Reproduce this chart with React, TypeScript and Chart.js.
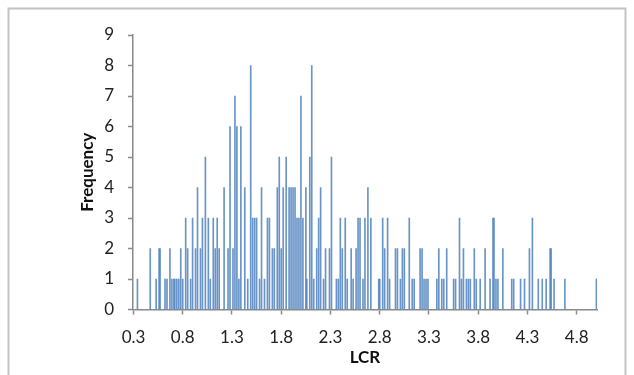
import React, { useEffect, useRef } from "react";
import { Chart, registerables } from "chart.js";

Chart.register(...registerables);

const lcrValues = [
  0.34, 0.47, 0.53, 0.56, 0.57, 0.62, 0.64, 0.67, 0.69, 0.71,
  0.72, 0.74, 0.76, 0.78, 0.80, 0.83, 0.85, 0.88, 0.90, 0.93,
  0.95, 0.98, 1.00, 1.03, 1.06, 1.08, 1.11, 1.13, 1.15, 1.17,
  1.22, 1.26, 1.28, 1.31, 1.33, 1.35, 1.37, 1.39, 1.43, 1.46,
  1.49, 1.51, 1.53, 1.55, 1.58, 1.60, 1.63, 1.66, 1.68, 1.71,
  1.73, 1.76, 1.78, 1.80, 1.82, 1.85, 1.88, 1.90, 1.92, 1.94,
  1.96, 1.98, 2.00, 2.02, 2.05, 2.06, 2.09, 2.11, 2.13, 2.16,
  2.18, 2.20, 2.23, 2.25, 2.29, 2.31, 2.36, 2.38, 2.40, 2.42,
  2.45, 2.47, 2.51, 2.53, 2.56, 2.58, 2.60, 2.63, 2.65, 2.68,
  2.71, 2.79, 2.80, 2.83, 2.85, 2.88, 2.90, 2.96, 2.98, 3.01,
  3.03, 3.05, 3.10, 3.13, 3.15, 3.21, 3.23, 3.25, 3.27, 3.29,
  3.38, 3.40, 3.43, 3.45, 3.48, 3.55, 3.57, 3.61, 3.63, 3.65,
  3.68, 3.70, 3.72, 3.76, 3.78, 3.82, 3.87, 3.92, 3.95, 3.96,
  3.98, 4.00, 4.05, 4.14, 4.16, 4.23, 4.27, 4.32, 4.35, 4.41,
  4.45, 4.49, 4.53, 4.54, 4.57, 4.68, 5.00,
];

const frequencies = [
  1, 2, 1, 2, 2, 1, 1, 2, 1, 1,
  1, 1, 1, 2, 1, 3, 2, 1, 3, 2,
  4, 2, 3, 5, 3, 1, 3, 2, 3, 2,
  4, 2, 6, 2, 7, 6, 1, 6, 4, 1,
  8, 3, 3, 3, 1, 4, 1, 3, 3, 2,
  2, 4, 5, 2, 4, 5, 4, 4, 4, 4,
  3, 3, 7, 3, 4, 1, 5, 8, 1, 2,
  3, 4, 1, 2, 2, 5, 1, 1, 3, 2,
  3, 1, 2, 1, 2, 3, 3, 1, 3, 4,
  3, 1, 1, 3, 2, 3, 1, 2, 2, 1,
  2, 2, 3, 1, 1, 2, 2, 1, 1, 1,
  1, 2, 1, 1, 2, 1, 1, 3, 1, 2,
  1, 1, 1, 2, 1, 1, 2, 1, 3, 3,
  1, 1, 2, 1, 1, 1, 1, 2, 3, 1,
  1, 1, 2, 2, 1, 1, 1,
];

const xTickValues = [0.3, 0.8, 1.3, 1.8, 2.3, 2.8, 3.3, 3.8, 4.3, 4.8];

const xMin = 0.295;
const xMax = 5.006;
const yMax = 9;

const frameBorder = {
  id: "frameBorder",
  beforeDraw(chart: any) {
    const ctx = chart.ctx;
    ctx.save();
    ctx.fillStyle = "#ffffff";
    ctx.fillRect(0, 0, chart.width, chart.height);
    ctx.strokeStyle = "#c4c4c4";
    ctx.lineWidth = 2;
    ctx.strokeRect(8.5, 8.5, 617, 500);
    ctx.restore();
  },
};

export default function App() {
  const canvasRef = useRef<HTMLCanvasElement | null>(null);

  useEffect(() => {
    const canvas = canvasRef.current;
    if (!canvas) return;
    const points = lcrValues.map((v, i) => ({ x: v, y: frequencies[i] }));
    const axisColor = "#8a8a8a";
    const chart = new Chart(canvas, {
      type: "bar",
      data: {
        datasets: [
          {
            label: "Frequency",
            data: points,
            backgroundColor: "rgba(79,129,189,0.85)",
            borderWidth: 0,
            barThickness: 1,
          },
        ],
      },
      options: {
        animation: false,
        responsive: false,
        maintainAspectRatio: false,
        devicePixelRatio: 1,
        layout: { padding: { left: 0, right: 37, top: 35, bottom: 0 } },
        plugins: {
          legend: { display: false },
          tooltip: { enabled: false },
        },
        scales: {
          x: {
            type: "linear",
            offset: false,
            min: xMin,
            max: xMax,
            afterBuildTicks: (scale: any) => {
              scale.ticks = xTickValues.map((v) => ({ value: v }));
            },
            afterFit: (scale: any) => {
              scale.height = 375 - 309.5;
            },
            grid: {
              offset: false,
              drawOnChartArea: false,
              drawTicks: true,
              tickLength: 5,
              tickColor: axisColor,
              tickWidth: 1.5,
            },
            border: { display: true, color: axisColor, width: 1.5 },
            ticks: {
              autoSkip: false,
              maxRotation: 0,
              padding: 13,
              color: "#222222",
              font: { family: "Lato", size: 17 },
              callback: (v: any) => Number(v).toFixed(1),
            },
            title: {
              display: true,
              text: "LCR",
              color: "#111111",
              font: { family: "Lato", size: 17, weight: "bold" },
              padding: { top: 0, bottom: 7 },
            },
          },
          y: {
            min: 0,
            max: yMax,
            afterFit: (scale: any) => {
              scale.width = 133;
            },
            grid: {
              drawOnChartArea: false,
              drawTicks: true,
              tickLength: 5,
              tickColor: axisColor,
              tickWidth: 1.5,
            },
            border: { display: true, color: axisColor, width: 1.5 },
            ticks: {
              stepSize: 1,
              padding: 14,
              color: "#222222",
              font: { family: "Lato", size: 17 },
            },
            title: {
              display: true,
              text: "Frequency",
              color: "#111111",
              font: { family: "Lato", size: 17, weight: "bold" },
              padding: { top: 77, bottom: 0 },
            },
          },
        },
      },
      plugins: [frameBorder],
    });
    return () => chart.destroy();
  }, []);

  return (
    <div
      style={{
        position: "absolute",
        left: 0,
        top: 0,
        width: 634,
        height: 375,
        overflow: "hidden",
        background: "#fff",
      }}
    >
      <canvas ref={canvasRef} width={634} height={375} style={{ display: "block", width: 634, height: 375 }} />
    </div>
  );
}
